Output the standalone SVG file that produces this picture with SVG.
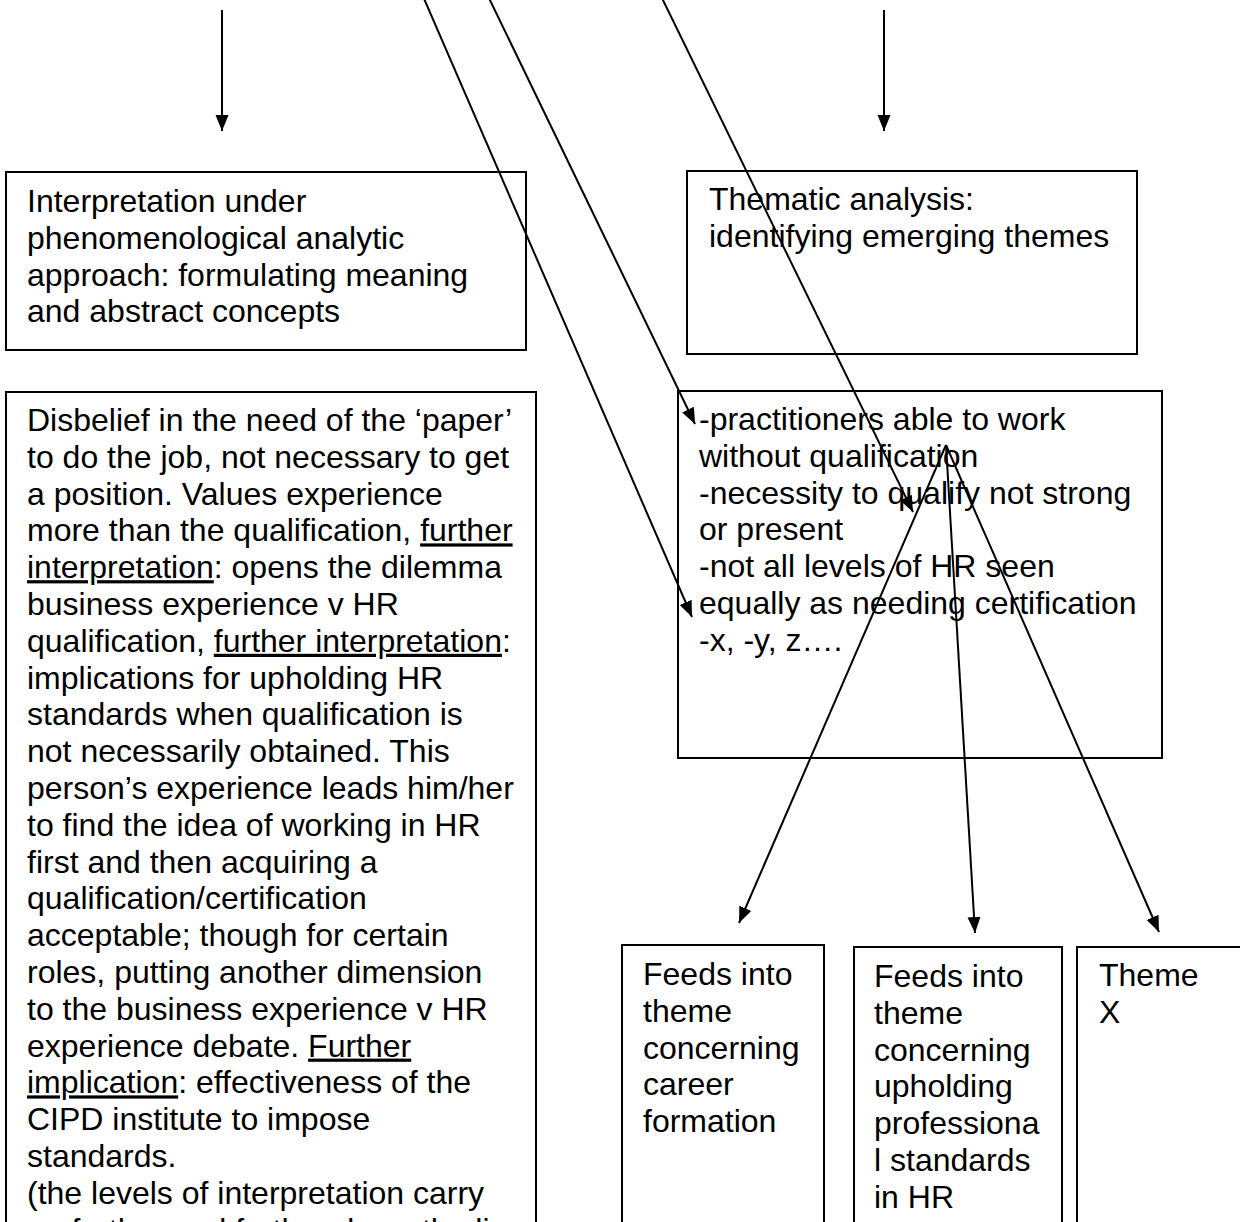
<svg xmlns="http://www.w3.org/2000/svg" width="1240" height="1222" viewBox="0 0 1240 1222">
  <defs>
    <marker id="arrow" markerUnits="userSpaceOnUse" markerWidth="18" markerHeight="14" refX="16" refY="6.5" orient="auto">
      <path d="M0,0 L16,6.5 L0,13 z" fill="#000"/>
    </marker>
    <style>
      .box { fill: #fff; stroke: #000; stroke-width: 2; }
      .lbl { font-family: "Liberation Sans", Arial, sans-serif; font-size: 32px; fill: #000; }
      .u { text-decoration: underline; }
      .edge { fill: none; stroke: #000; stroke-width: 2; marker-end: url(#arrow); }
    </style>
  </defs>
  <rect width="1240" height="1222" fill="#fff"/>

  <!-- nodes -->
  <g id="interpretation">
    <rect class="box" x="6" y="172" width="520" height="178"/>
    <text class="lbl">
      <tspan x="27" y="212">Interpretation under</tspan>
      <tspan x="27" dy="36.8">phenomenological analytic</tspan>
      <tspan x="27" dy="36.8">approach: formulating meaning</tspan>
      <tspan x="27" dy="36.8">and abstract concepts</tspan>
    </text>
  </g>

  <g id="thematic-analysis">
    <rect class="box" x="687" y="171" width="450" height="183"/>
    <text class="lbl">
      <tspan x="709" y="210">Thematic analysis:</tspan>
      <tspan x="709" dy="36.8">identifying emerging themes</tspan>
    </text>
  </g>

  <g id="interpretation-detail">
    <rect class="box" x="6" y="392" width="530" height="860"/>
    <text class="lbl">
      <tspan x="27" y="431">Disbelief in the need of the ‘paper’</tspan>
      <tspan x="27" dy="36.8">to do the job, not necessary to get</tspan>
      <tspan x="27" dy="36.8">a position. Values experience</tspan>
      <tspan x="27" dy="36.8">more than the qualification, <tspan class="u">further</tspan></tspan>
      <tspan x="27" dy="36.8"><tspan class="u">interpretation</tspan>: opens the dilemma</tspan>
      <tspan x="27" dy="36.8">business experience v HR</tspan>
      <tspan x="27" dy="36.8">qualification, <tspan class="u">further interpretation</tspan>:</tspan>
      <tspan x="27" dy="36.8">implications for upholding HR</tspan>
      <tspan x="27" dy="36.8">standards when qualification is</tspan>
      <tspan x="27" dy="36.8">not necessarily obtained. This</tspan>
      <tspan x="27" dy="36.8">person’s experience leads him/her</tspan>
      <tspan x="27" dy="36.8">to find the idea of working in HR</tspan>
      <tspan x="27" dy="36.8">first and then acquiring a</tspan>
      <tspan x="27" dy="36.8">qualification/certification</tspan>
      <tspan x="27" dy="36.8">acceptable; though for certain</tspan>
      <tspan x="27" dy="36.8">roles, putting another dimension</tspan>
      <tspan x="27" dy="36.8">to the business experience v HR</tspan>
      <tspan x="27" dy="36.8">experience debate. <tspan class="u">Further</tspan></tspan>
      <tspan x="27" dy="36.8"><tspan class="u">implication</tspan>: effectiveness of the</tspan>
      <tspan x="27" dy="36.8">CIPD institute to impose</tspan>
      <tspan x="27" dy="36.8">standards.</tspan>
      <tspan x="27" dy="36.8">(the levels of interpretation carry</tspan>
      <tspan x="27" dy="37.6">on further and further down the line</tspan>
    </text>
  </g>

  <g id="emerging-themes">
    <rect class="box" x="678" y="391" width="484" height="367"/>
    <text class="lbl">
      <tspan x="699" y="430">-practitioners able to work</tspan>
      <tspan x="699" dy="36.8">without qualification</tspan>
      <tspan x="699" dy="36.8">-necessity to qualify not strong</tspan>
      <tspan x="699" dy="36.8">or present</tspan>
      <tspan x="699" dy="36.8">-not all levels of HR seen</tspan>
      <tspan x="699" dy="36.8">equally as needing certification</tspan>
      <tspan x="699" dy="36.8">-x, -y, z….</tspan>
    </text>
  </g>

  <g id="theme-career">
    <rect class="box" x="622" y="945" width="202" height="320"/>
    <text class="lbl">
      <tspan x="643" y="985">Feeds into</tspan>
      <tspan x="643" dy="36.8">theme</tspan>
      <tspan x="643" dy="36.8">concerning</tspan>
      <tspan x="643" dy="36.8">career</tspan>
      <tspan x="643" dy="36.8">formation</tspan>
    </text>
  </g>

  <g id="theme-standards">
    <rect class="box" x="854" y="947" width="208" height="320"/>
    <text class="lbl">
      <tspan x="874" y="987">Feeds into</tspan>
      <tspan x="874" dy="36.8">theme</tspan>
      <tspan x="874" dy="36.8">concerning</tspan>
      <tspan x="874" dy="36.8">upholding</tspan>
      <tspan x="874" dy="36.8">professiona</tspan>
      <tspan x="874" dy="36.8">l standards</tspan>
      <tspan x="874" dy="36.8">in HR</tspan>
    </text>
  </g>

  <g id="theme-x">
    <rect class="box" x="1077" y="947" width="200" height="320"/>
    <text class="lbl">
      <tspan x="1099" y="986">Theme</tspan>
      <tspan x="1099" dy="36.8">X</tspan>
    </text>
  </g>

  <!-- connectors -->
  <g id="connectors">
    <line class="edge" x1="222" y1="10" x2="222" y2="131"/>
    <line class="edge" x1="884" y1="10" x2="884" y2="131"/>
    <line class="edge" x1="422" y1="-6" x2="692" y2="617"/>
    <line class="edge" x1="487" y1="-6" x2="695" y2="424"/>
    <line class="edge" x1="660" y1="-6" x2="913" y2="512"/>
    <line class="edge" x1="946" y1="445" x2="739" y2="923"/>
    <line class="edge" x1="946" y1="445" x2="975" y2="933"/>
    <line class="edge" x1="946" y1="445" x2="1159" y2="932"/>
  </g>
</svg>
